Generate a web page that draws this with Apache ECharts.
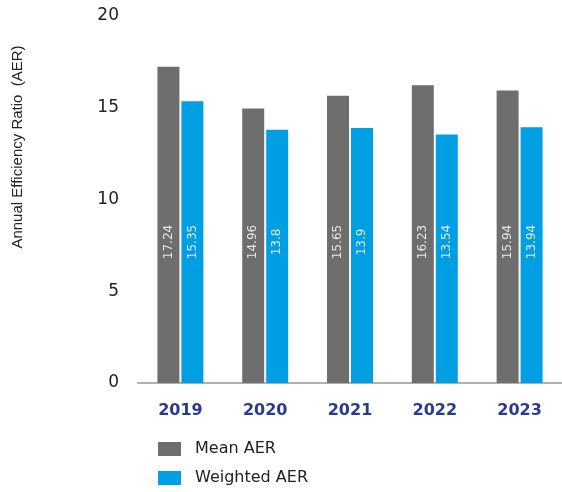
<!DOCTYPE html>
<html>
<head>
<meta charset="utf-8">
<script src="https://cdn.jsdelivr.net/npm/echarts@6/dist/echarts.min.js"></script>
<style>
  html, body { margin: 0; padding: 0; background: #ffffff; }
  #chart { width: 562px; height: 492px; }
</style>
</head>
<body>
<div id="chart"></div>
<script>
// Annual Efficiency Ratio by year
const years = ['2019', '2020', '2021', '2022', '2023'];
const meanAER = [17.24, 14.96, 15.65, 16.23, 15.94];
const weightedAER = [15.35, 13.8, 13.9, 13.54, 13.94];
const yTicks = [0, 5, 10, 15, 20];

const chart = echarts.init(document.getElementById('chart'), null, { renderer: 'canvas' });

const valueLabel = {
  show: true,
  position: 'insideBottom',
  distance: 141,
  rotate: 90,
  align: 'center',
  verticalAlign: 'middle',
  color: '#e6e6e6',
  fontFamily: 'DejaVu Sans',
  fontSize: 12,
  formatter: p => String(p.value)
};

chart.setOption({
  animation: false,
  backgroundColor: '#ffffff',
  grid: { left: 138, right: -4, top: 16, bottom: 109, containLabel: false },
  graphic: [{
    type: 'text',
    x: 18,
    y: 147,
    rotation: Math.PI / 2,
    style: {
      text: 'Annual Efficiency Ratio  (AER)',
      fill: '#222222',
      font: '15px "Liberation Sans"',
      align: 'center',
      verticalAlign: 'middle'
    }
  }],
  legend: {
    orient: 'vertical',
    left: 158,
    top: 441,
    height: 50,
    padding: 0,
    itemWidth: 23,
    itemHeight: 14,
    itemGap: 13,
    icon: 'rect',
    textStyle: {
      color: '#222222',
      fontFamily: 'DejaVu Sans',
      fontSize: 16,
      lineHeight: 14,
      padding: [0, 0, 0, 9]
    },
    data: ['Mean AER', 'Weighted AER']
  },
  xAxis: {
    type: 'category',
    data: years,
    axisLine: { show: true, lineStyle: { color: '#b0b0b0', width: 2 } },
    axisTick: { show: false },
    axisLabel: {
      margin: 20,
      color: '#2b3990',
      fontFamily: 'DejaVu Sans',
      fontWeight: 'bold',
      fontSize: 16
    }
  },
  yAxis: {
    type: 'value',
    min: yTicks[0],
    max: yTicks[yTicks.length - 1],
    interval: 5,
    axisLine: { show: false },
    axisTick: { show: false },
    splitLine: { show: false },
    axisLabel: {
      margin: 19,
      color: '#222222',
      fontFamily: 'DejaVu Sans',
      fontSize: 17,
      padding: [0, 0, 3, 0]
    }
  },
  series: [
    {
      name: 'Mean AER',
      type: 'bar',
      data: meanAER,
      barWidth: 22,
      barGap: '9%',
      itemStyle: { color: '#6e6e6e' },
      label: valueLabel
    },
    {
      name: 'Weighted AER',
      type: 'bar',
      data: weightedAER,
      barWidth: 22,
      barGap: '9%',
      itemStyle: { color: '#009fe3' },
      label: valueLabel
    }
  ]
});
</script>
</body>
</html>
